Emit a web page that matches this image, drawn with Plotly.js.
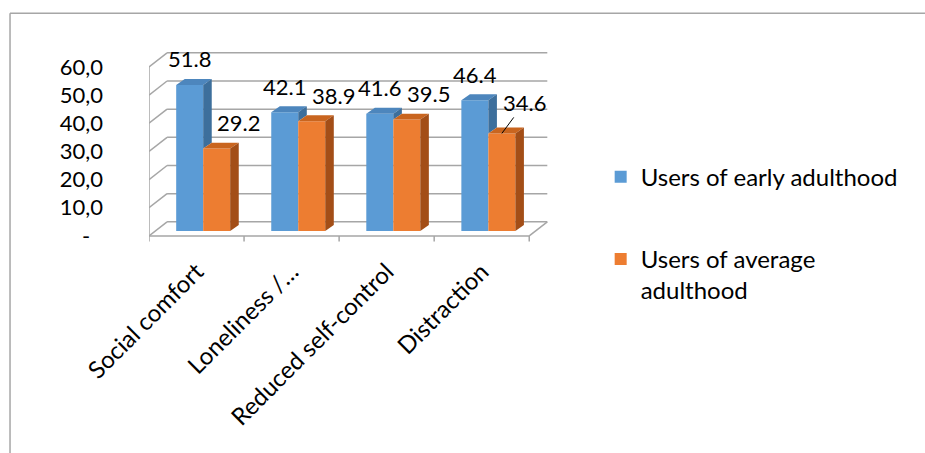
<!DOCTYPE html>
<html>
<head>
<meta charset="utf-8">
<script src="https://cdn.plot.ly/plotly-3.0.1.min.js"></script>
<style>html,body{margin:0;padding:0;background:#fff;}#chart{width:925px;height:453px;}</style>
</head>
<body>
<div id="chart"></div>
<script>
// ---- data ----
const categories = ['Social comfort', 'Loneliness /…', 'Reduced self-control', 'Distraction'];
const earlyAdulthood = [51.8, 42.1, 41.6, 46.4];
const averageAdulthood = [29.2, 38.9, 39.5, 34.6];
const seriesNames = ['Users of early adulthood', 'Users of average<br>adulthood'];
const yTickVals = [0, 10, 20, 30, 40, 50, 60];
const yTickText = ['-\u2007', '10,0', '20,0', '30,0', '40,0', '50,0', '60,0'];

// ---- 3D look (styling, in axis units) ----
const BACK_DX = 0.19, BACK_DY = 5.0;   // back wall offset
const BAR_SHIFT = 0.07, BAR_BASE = 1.8; // bars sit mid-depth
const DEPTH_DX = 0.09, DEPTH_DY = 2.1;  // bar depth
const BAR_W = 0.284;
const BLUE = '#5b9bd5', BLUE_TOP = '#4d86bd', BLUE_SIDE = '#3d6f9c';
const ORANGE = '#ed7d31', ORANGE_TOP = '#c9651f', ORANGE_SIDE = '#a34e17';
const GRID = '#a6a6a6';
const FONT = 'Lato, "Open Sans", sans-serif';
const NUM_SIZE = 22, TEXT_SIZE = 24;

const idx = categories.map((_, i) => i);
const xMin = -0.5, xMax = categories.length - 0.5;
const yTop = yTickVals[yTickVals.length - 1];

function poly(list) {
  const xs = [], ys = [];
  list.forEach(p => { p.forEach(pt => { xs.push(pt[0]); ys.push(pt[1]); }); xs.push(p[0][0]); ys.push(p[0][1]); xs.push(null); ys.push(null); });
  return {xs, ys};
}
function topFace(xl, xr, v) {
  const y = BAR_BASE + v;
  return [[xl, y], [xl + DEPTH_DX, y + DEPTH_DY], [xr + DEPTH_DX, y + DEPTH_DY], [xr, y]];
}
function sideFace(xr, vLow, vHigh) {
  return [[xr, BAR_BASE + vLow], [xr + DEPTH_DX, BAR_BASE + vLow + DEPTH_DY], [xr + DEPTH_DX, BAR_BASE + vHigh + DEPTH_DY], [xr, BAR_BASE + vHigh]];
}

const blueTop = poly(idx.map(i => topFace(i + BAR_SHIFT - BAR_W, i + BAR_SHIFT, earlyAdulthood[i])));
const blueSide = poly(idx.filter(i => earlyAdulthood[i] > averageAdulthood[i]).map(i => sideFace(i + BAR_SHIFT, averageAdulthood[i], earlyAdulthood[i])));
const orangeTop = poly(idx.map(i => topFace(i + BAR_SHIFT, i + BAR_SHIFT + BAR_W, averageAdulthood[i])));
const orangeSide = poly(idx.map(i => sideFace(i + BAR_SHIFT + BAR_W, 0, averageAdulthood[i])));

function faceTrace(p, color) {
  return {type: 'scatter', mode: 'lines', x: p.xs, y: p.ys, fill: 'toself', fillcolor: color,
    line: {width: 0, color: color}, showlegend: false, hoverinfo: 'skip'};
}

const traces = [
  {type: 'bar', name: seriesNames[0], x: idx.map(i => i + BAR_SHIFT), y: earlyAdulthood, base: BAR_BASE,
   offset: -BAR_W, width: BAR_W, marker: {color: BLUE, line: {width: 0}}, legendgroup: 'a', hoverinfo: 'skip'},
  {type: 'bar', name: seriesNames[1], x: idx.map(i => i + BAR_SHIFT), y: averageAdulthood, base: BAR_BASE,
   offset: 0, width: BAR_W, marker: {color: ORANGE, line: {width: 0}}, legendgroup: 'b', hoverinfo: 'skip'},
  faceTrace(blueTop, BLUE_TOP),
  faceTrace(blueSide, BLUE_SIDE),
  faceTrace(orangeTop, ORANGE_TOP),
  faceTrace(orangeSide, ORANGE_SIDE)
];

// ---- walls / grid as shapes (below traces) ----
const shapes = [];
function seg(x0, y0, x1, y1) {
  shapes.push({type: 'line', xref: 'x', yref: 'y', x0, y0, x1, y1, layer: 'below', line: {color: GRID, width: 1.5}});
}
yTickVals.forEach(t => {
  seg(xMin + BACK_DX, t + BACK_DY, xMax + BACK_DX, t + BACK_DY);
  seg(xMin, t, xMin + BACK_DX, t + BACK_DY);
});
seg(xMin, 0, xMin, yTop);
seg(xMin, 0, xMax, 0);
seg(xMax, 0, xMax + BACK_DX, BACK_DY);
for (let k = 0; k <= categories.length; k++) seg(xMin + k, 0, xMin + k, -2);
// outer chart border
shapes.push({type: 'line', xref: 'paper', yref: 'paper', x0: -0.344, x1: 2, y0: 1.19, y1: 1.19, line: {color: GRID, width: 1.5}});
shapes.push({type: 'line', xref: 'paper', yref: 'paper', x0: -0.344, x1: -0.344, y0: -2, y1: 1.19, line: {color: GRID, width: 1.5}});

// ---- data labels ----
const annotations = [];
idx.forEach(i => {
  annotations.push({x: i + BAR_SHIFT - BAR_W / 2, y: BAR_BASE + earlyAdulthood[i], text: earlyAdulthood[i].toFixed(1),
    showarrow: false, yshift: 26, font: {family: FONT, size: NUM_SIZE, color: '#000'}});
  const leader = (i === categories.length - 1);
  const a = {x: i + BAR_SHIFT + BAR_W / 2, y: BAR_BASE + averageAdulthood[i], text: averageAdulthood[i].toFixed(1),
    font: {family: FONT, size: NUM_SIZE, color: '#000'}};
  if (leader) { Object.assign(a, {showarrow: true, arrowhead: 0, arrowwidth: 1, arrowcolor: '#000', ax: 23, ay: -31}); }
  else { Object.assign(a, {showarrow: false, xshift: 22, yshift: 26}); }
  annotations.push(a);
});

const layout = {
  width: 925, height: 453,
  margin: {l: 149, r: 372, t: 50, b: 210},
  paper_bgcolor: '#fff', plot_bgcolor: 'rgba(0,0,0,0)',
  font: {family: FONT, size: TEXT_SIZE, color: '#000'},
  showlegend: true,
  barmode: 'overlay',
  xaxis: {range: [xMin, xMax + 0.25], tickvals: idx, ticktext: categories, tickangle: -45,
    showgrid: false, zeroline: false, showline: false, ticks: '', ticklabelstandoff: 9,
    tickfont: {family: FONT, size: TEXT_SIZE, color: '#000'}, fixedrange: true},
  yaxis: {range: [-2.5, 66], tickvals: yTickVals, ticktext: yTickText, showgrid: false, zeroline: false,
    showline: false, ticks: '', ticklabelstandoff: 45, tickfont: {family: FONT, size: NUM_SIZE, color: '#000'}, fixedrange: true},
  legend: {x: 1.118, y: 0.458, xanchor: 'left', yanchor: 'top', valign: 'top', tracegroupgap: 48,
    font: {family: FONT, size: TEXT_SIZE, color: '#000'}, bgcolor: 'rgba(0,0,0,0)'},
  shapes, annotations
};

Plotly.newPlot('chart', traces, layout, {staticPlot: true, displayModeBar: false});
</script>
</body>
</html>
